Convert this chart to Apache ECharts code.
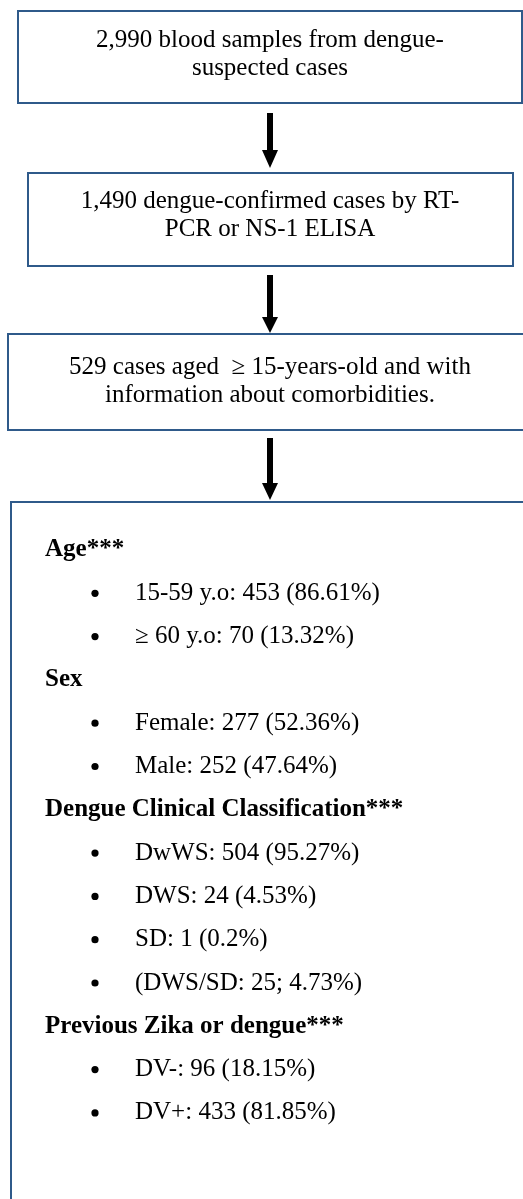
<!DOCTYPE html>
<html>
<head>
<meta charset="utf-8">
<script src="https://cdn.jsdelivr.net/npm/echarts@6/dist/echarts.min.js"></script>
<style>
  html, body { margin: 0; padding: 0; background: #ffffff; }
  #chart { width: 523px; height: 1199px; }
</style>
</head>
<body>
<div id="chart"></div>
<script>
// ---- Data (flow steps and summary contents) ----
const step1Lines = ["2,990 blood samples from dengue-", "suspected cases"];
const step2Lines = ["1,490 dengue-confirmed cases by RT-", "PCR or NS-1 ELISA"];
const step3Lines = ["529 cases aged  \u2265 15-years-old and with", "information about comorbidities."];

const groupTitles = ["Age***", "Sex", "Dengue Clinical Classification***", "Previous Zika or dengue***"];
const ageItems = ["15-59 y.o: 453 (86.61%)", "\u2265 60 y.o: 70 (13.32%)"];
const sexItems = ["Female: 277 (52.36%)", "Male: 252 (47.64%)"];
const classItems = ["DwWS: 504 (95.27%)", "DWS: 24 (4.53%)", "SD: 1 (0.2%)", "(DWS/SD: 25; 4.73%)"];
const priorItems = ["DV-: 96 (18.15%)", "DV+: 433 (81.85%)"];

// ---- Layout ----
const BORDER = '#2f5a8a';
const FONT = '25px "Liberation Serif", "Times New Roman", serif';
const BOLD = 'bold 25px "Liberation Serif", "Times New Roman", serif';
const CX = 270;

const steps = [
  { lines: step1Lines, x0: 18, x1: 522, y0: 11, y1: 103, ty: 40 },
  { lines: step2Lines, x0: 28, x1: 513, y0: 173, y1: 266, ty: 201 },
  { lines: step3Lines, x0: 8, x1: 532, y0: 334, y1: 430, ty: 367 }
];
const arrows = [
  { y0: 113, yh: 150, tip: 168 },
  { y0: 275, yh: 317, tip: 333 },
  { y0: 438, yh: 483, tip: 500 }
];

const graphics = [];

steps.forEach(s => {
  graphics.push({
    type: 'rect',
    shape: { x: s.x0, y: s.y0, width: s.x1 - s.x0, height: s.y1 - s.y0 },
    style: { fill: '#ffffff', stroke: BORDER, lineWidth: 2 }
  });
  s.lines.forEach((t, i) => {
    graphics.push({
      type: 'text',
      style: {
        text: t, x: CX, y: s.ty + i * 28, font: FONT, fill: '#000000',
        textAlign: 'center', textVerticalAlign: 'middle', verticalAlign: 'middle'
      }
    });
  });
});

arrows.forEach(a => {
  graphics.push({
    type: 'polygon',
    shape: {
      points: [
        [CX - 3, a.y0], [CX + 3, a.y0], [CX + 3, a.yh], [CX + 8, a.yh],
        [CX, a.tip], [CX - 8, a.yh], [CX - 3, a.yh]
      ]
    },
    style: { fill: '#000000' }
  });
});

// Summary box
graphics.push({
  type: 'rect',
  shape: { x: 11, y: 502, width: 518, height: 740 },
  style: { fill: '#ffffff', stroke: BORDER, lineWidth: 2 }
});

const groups = [ageItems, sexItems, classItems, priorItems];
let row = 0;
const rowY = r => 550 + r * 43.3;
groups.forEach((items, g) => {
  graphics.push({
    type: 'text',
    style: {
      text: groupTitles[g], x: 45, y: rowY(row), font: BOLD, fill: '#000000',
      textAlign: 'left', textVerticalAlign: 'middle', verticalAlign: 'middle'
    }
  });
  row++;
  items.forEach(t => {
    graphics.push({
      type: 'circle',
      shape: { cx: 95, cy: rowY(row), r: 3.6 },
      style: { fill: '#000000' }
    });
    graphics.push({
      type: 'text',
      style: {
        text: t, x: 135, y: rowY(row), font: FONT, fill: '#000000',
        textAlign: 'left', textVerticalAlign: 'middle', verticalAlign: 'middle'
      }
    });
    row++;
  });
});

const chart = echarts.init(document.getElementById('chart'), null, { renderer: 'canvas' });
chart.setOption({
  backgroundColor: '#ffffff',
  animation: false,
  graphic: { elements: graphics }
});
</script>
</body>
</html>
